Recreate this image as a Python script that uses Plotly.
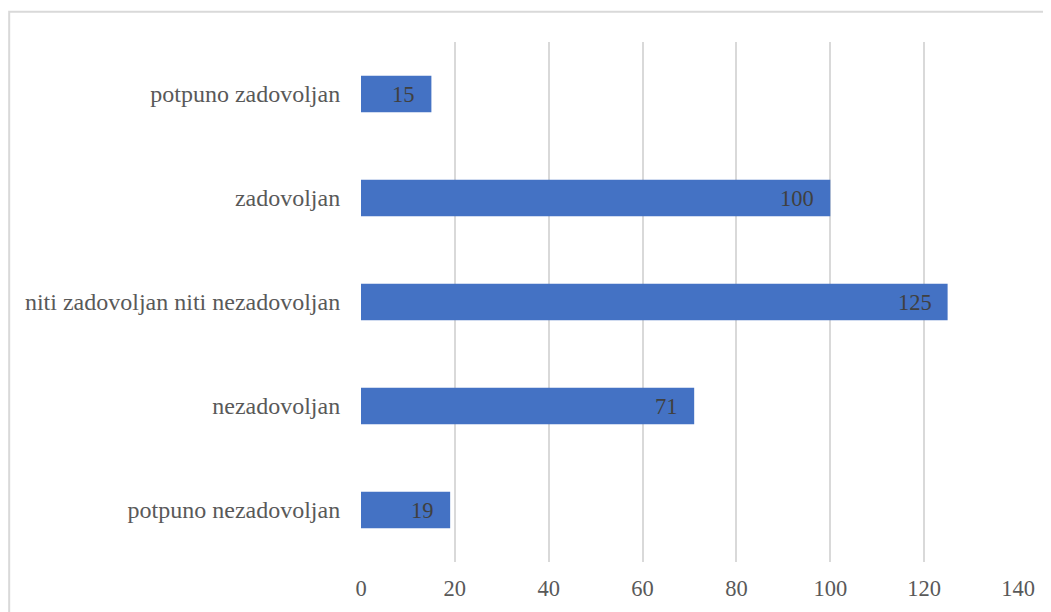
import plotly.graph_objects as go

categories = [
    "potpuno nezadovoljan",
    "nezadovoljan",
    "niti zadovoljan niti nezadovoljan",
    "zadovoljan",
    "potpuno zadovoljan",
]
counts = [19, 71, 125, 100, 15]
x_ticks = [0, 20, 40, 60, 80, 100, 120, 140]

BAR = "#4472C4"
FONT = "Liberation Serif, Times New Roman, serif"
NUM_SIZE = 22.5
CAT_SIZE = 24

fig = go.Figure(go.Bar(
    x=counts, y=categories, orientation="h",
    marker=dict(color=BAR, line=dict(width=0)),
    hoverinfo="x+y",
))

# value labels sit inside the bar end, with some padding
for cat, v in zip(categories, counts):
    fig.add_annotation(
        x=v, y=cat, text=str(v), showarrow=False,
        xanchor="right", xshift=-14,
        font=dict(family=FONT, size=NUM_SIZE, color="#404040"),
    )

# page body has an 8px margin, so the figure is a little smaller
fig.update_layout(
    width=1043, height=604,
    margin=dict(l=353, r=33, t=34, b=50),
    paper_bgcolor="white", plot_bgcolor="white",
    bargap=0.647,
    showlegend=False,
    font=dict(family=FONT, size=NUM_SIZE, color="#595959"),
    xaxis=dict(
        range=[0, 140], tickvals=x_ticks, showgrid=True, automargin=False,
        gridcolor="#D9D9D9", gridwidth=2, zeroline=False,
        showline=False, ticks="outside", ticklen=6, tickcolor="rgba(0,0,0,0)",
        tickfont=dict(family=FONT, size=NUM_SIZE, color="#595959"),
    ),
    yaxis=dict(
        categoryorder="array", categoryarray=categories, automargin=False,
        showgrid=False, zeroline=False, showline=False,
        ticks="outside", ticklen=15, tickcolor="rgba(0,0,0,0)",
        tickfont=dict(family=FONT, size=CAT_SIZE, color="#595959"),
    ),
    shapes=[
        # chart border (right and bottom edges fall outside the view)
        dict(type="rect", xref="paper", yref="paper",
             x0=-0.5355, x1=1.07, y0=-0.12, y1=1.058,
             line=dict(color="#D9D9D9", width=2), layer="below"),
    ],
)

fig.write_html("out.html")
